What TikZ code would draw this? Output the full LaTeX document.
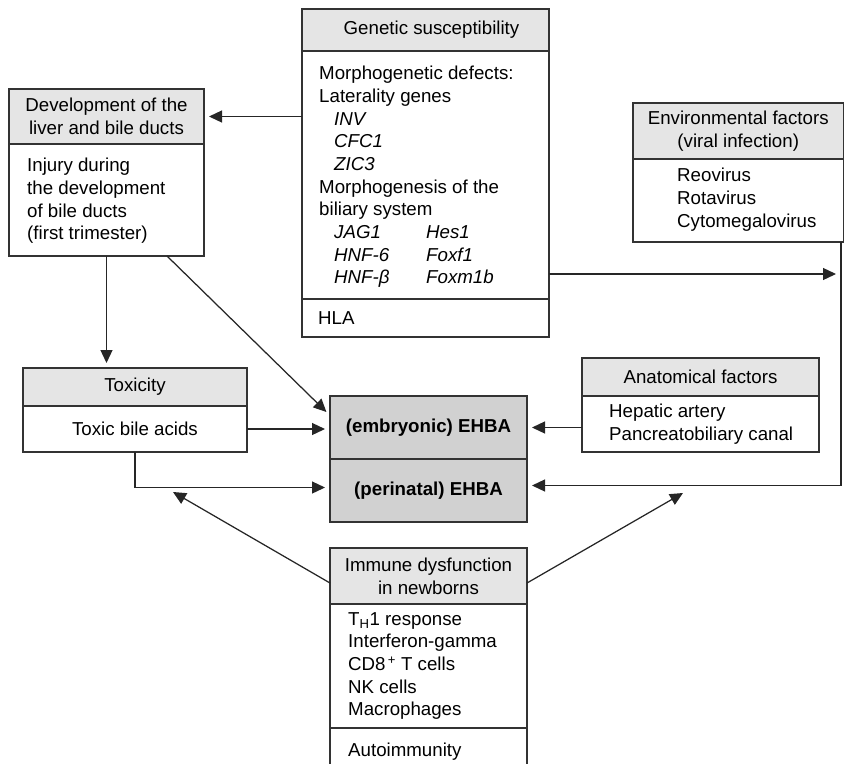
\documentclass[tikz,border=0pt]{standalone}
\usepackage{fontspec}
\setmainfont{Liberation Sans}
\usepackage{tikz}
\usetikzlibrary{arrows.meta,positioning}
\usepackage{xcolor}

\newcommand{\boxfont}{\fontsize{18.7}{22.7}\selectfont}

\tikzset{
  sect/.style={draw=black!80, line width=1.3pt, outer sep=0pt, inner sep=0pt, anchor=north west},
  headbox/.style={sect, fill=black!10, align=center},
  bodybox/.style={sect, fill=white},
  ehbabox/.style={sect, fill=black!18, font=\boxfont\bfseries},
  txt/.style={anchor=west, align=left, inner sep=0pt},
  arr/.style={draw=black!85, line width=1.25pt, -{Triangle[length=13pt,width=12pt]}, shorten >=5pt},
}

\begin{document}
\begin{tikzpicture}[x=1pt, y=-1pt, font=\boxfont] % {{{
\useasboundingbox (0,0) rectangle (845,763);
	\begin{scope}[shift={(302,9)}] % Genetic susceptibility {{{
	  \node[headbox, minimum width=247pt, minimum height=42pt] (genhead) at (0,0) {\hspace*{12pt}Genetic susceptibility};
	  \node[bodybox, minimum width=247pt, minimum height=248pt, below=0pt of genhead] (genbody) {};
	  \node[bodybox, minimum width=247pt, minimum height=38pt, below=0pt of genbody] (genhla) {};
	  \node[txt] (gentext) at ([xshift=17pt,yshift=-2pt]genbody.west) {Morphogenetic defects:\\
	    Laterality genes\\
	    \hspace*{15pt}\textit{INV}\\
	    \hspace*{15pt}\textit{CFC1}\\
	    \hspace*{15pt}\textit{ZIC3}\\
	    Morphogenesis of the\\
	    biliary system\\
	    \hspace*{15pt}\makebox[92pt][l]{\textit{JAG1}}\textit{Hes1}\\
	    \hspace*{15pt}\makebox[92pt][l]{\textit{HNF-6}}\textit{Foxf1}\\
	    \hspace*{15pt}\makebox[92pt][l]{\textit{HNF-β}}\textit{Foxm1b}};
	  \node[txt] (hlatext) at ([xshift=16pt]genhla.west) {HLA};
	\end{scope} % }}}
	\begin{scope}[shift={(9,89)}] % Development {{{
	  \node[headbox, minimum width=195pt, minimum height=55pt] (devhead) at (0,0) {Development of the\\liver and bile ducts};
	  \node[bodybox, minimum width=195pt, minimum height=112pt, below=0pt of devhead] (devbody) {};
	  \node[txt] (devtext) at ([xshift=18pt,yshift=-1pt]devbody.west) {Injury during\\
	    the development\\
	    of bile ducts\\
	    (first trimester)};
	\end{scope} % }}}
	\begin{scope}[shift={(633,103)}] % Environmental factors {{{
	  \node[headbox, minimum width=210.5pt, minimum height=56pt] (envhead) at (0,0) {Environmental factors\\(viral infection)};
	  \node[bodybox, minimum width=210.5pt, minimum height=83pt, below=0pt of envhead] (envbody) {};
	  \node[txt] (envtext) at ([xshift=44pt,yshift=1pt]envbody.west) {Reovirus\\
	    Rotavirus\\
	    Cytomegalovirus};
	\end{scope} % }}}
	\begin{scope}[shift={(23,368)}] % Toxicity {{{
	  \node[headbox, minimum width=224pt, minimum height=38pt] (toxhead) at (0,0) {Toxicity};
	  \node[bodybox, minimum width=224pt, minimum height=46pt, below=0pt of toxhead] (toxbody) {Toxic bile acids};
	\end{scope} % }}}
	\begin{scope}[shift={(582,358)}] % Anatomical factors {{{
	  \node[headbox, minimum width=237pt, minimum height=38pt] (anahead) at (0,0) {Anatomical factors};
	  \node[bodybox, minimum width=237pt, minimum height=56pt, below=0pt of anahead] (anabody) {};
	  \node[txt] (anatext) at ([xshift=27pt]anabody.west) {\fontsize{18.7}{21}\selectfont Hepatic artery\\
	    Pancreatobiliary canal};
	\end{scope} % }}}
	\begin{scope}[shift={(330,396)}] % EHBA {{{
	  \node[ehbabox, minimum width=197pt, minimum height=63pt] (emb) at (0,0) {(embryonic) EHBA};
	  \node[ehbabox, minimum width=197pt, minimum height=63pt, below=0pt of emb] (peri) {(perinatal) EHBA};
	\end{scope} % }}}
	\begin{scope}[shift={(330,548)}] % Immune dysfunction {{{
	  \node[headbox, minimum width=197pt, minimum height=56pt] (immhead) at (0,0) {Immune dysfunction\\in newborns};
	  \node[bodybox, minimum width=197pt, minimum height=124pt, below=0pt of immhead] (immbody) {};
	  \node[bodybox, minimum width=197pt, minimum height=50pt, below=0pt of immbody] (immauto) {};
	  \node[txt] (immtext) at ([xshift=18pt]immbody.west) {\fontsize{18.7}{22}\selectfont T\textsubscript{H}1 response\\
	    Interferon-gamma\\
	    CD8\textsuperscript{\,+} T cells\\
	    NK cells\\
	    Macrophages};
	  \node[txt, anchor=base west] (autotext) at ([xshift=18pt,yshift=-28pt]immauto.north west) {Autoimmunity};
	\end{scope} % }}}
	% connectors {{{
	\coordinate (envdrop) at ([xshift=-2.5pt]envbody.south east);
	\coordinate (genout) at ([yshift=-99pt]genbody.east);
	\coordinate (immL) at (173,492);
	\coordinate (immR) at (683,493);
	\draw[arr] (genbody.west |- devhead.east) -- (devhead.east);
	\draw[arr] (devbody.south) -- (devbody.south |- toxhead.north);
	\draw[arr] ([xshift=-37pt]devbody.south east) -- ([yshift=12pt]emb.west);
	\draw[arr] (toxbody.east) -- (toxbody.east -| emb.west);
	\draw[arr] (toxbody.south) |- ([yshift=3pt]peri.west);
	\draw[arr] (anabody.west |- emb.east) -- (emb.east);
	\draw[arr] (genout) -- (genout -| envdrop);
	\draw[arr] (envdrop) |- ([yshift=5pt]peri.east);
	\draw[arr, shorten >=0pt] ([yshift=-7pt]immhead.west) -- (immL);
	\draw[arr, shorten >=0pt] ([yshift=-7pt]immhead.east) -- (immR);
	% }}}
\end{tikzpicture} % }}}
\end{document}
